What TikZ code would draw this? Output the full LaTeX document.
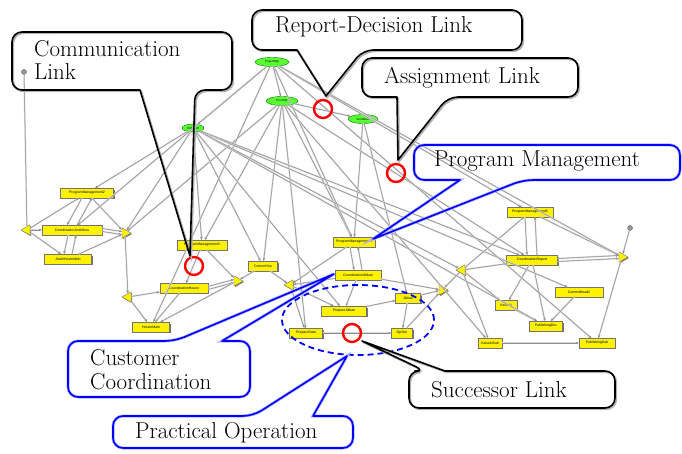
\documentclass[tikz,border=0pt]{standalone}
\usepackage{fontspec}
\newfontfamily\labelfont{Liberation Sans}
\usetikzlibrary{shapes.geometric,arrows.meta,shadows}

\begin{document}
\begin{tikzpicture}[x=1pt,y=-1pt,
  task/.style={draw=black!55, line width=0.4pt, fill=yellow, inner sep=0pt,
    minimum height=9.5pt, font=\labelfont\fontsize{3.5}{4}\selectfont,
    drop shadow={shadow xshift=1.3pt, shadow yshift=-1.3pt, fill=black!55, opacity=1}},
  role/.style={ellipse, draw=green!45!black, line width=0.4pt, fill=green!75!lime!80!white,
    inner sep=0pt, minimum height=9pt, font=\labelfont\fontsize{3}{3.5}\selectfont},
  joinL/.style={regular polygon, regular polygon sides=3, shape border rotate=90,
    draw=black!55, line width=0.4pt, fill=yellow, inner sep=0pt, minimum size=12pt,
    drop shadow={shadow xshift=1pt, shadow yshift=-1pt, fill=black!50, opacity=1}},
  joinR/.style={joinL, shape border rotate=-90},
  enddot/.style={circle, draw=black!65, fill=black!40, inner sep=0pt, minimum size=5pt},
  ring/.style={circle, draw=red, line width=2.4pt, inner sep=0pt, minimum size=18pt},
  link/.style={draw=black!45, line width=0.5pt,
    preaction={draw=black!15, line width=1.6pt},
    -{Stealth[length=3pt,width=2.4pt]}},
  plain/.style={draw=black!45, line width=0.5pt, preaction={draw=black!15, line width=1.6pt}},
  callout/.style={draw=black, line width=1.6pt, line join=round,
    preaction={draw=black!30, line width=1.8pt, transform canvas={shift={(1.3pt,-1.3pt)}}}},
  bluecallout/.style={draw=blue, line width=1.6pt, line join=round,
    preaction={draw=blue!30, line width=3pt}},
  ctext/.style={font=\rmfamily\fontsize{23}{23.5}\selectfont, inner sep=0pt, anchor=base west, align=left},
]
\useasboundingbox (0,0) rectangle (682,454);

% ---------- roles ----------
\node[role, minimum width=34pt] (pmgr)    at (272,62)  {ProjectMgr};
\node[role, minimum width=32pt] (procmgr) at (282,101) {ProcMgr};
\node[role, minimum width=22pt, minimum height=8pt] (edit) at (193,128) {EditStaff};
\node[role, minimum width=30pt] (send)    at (363,119) {SendStaff};
\node[enddot] (dotA) at (24,72) {};
\node[enddot] (dotB) at (630,228) {};

% ---------- left cluster ----------
\node[task, minimum width=53pt] (pm2)  at (87,193)  {ProgramManagement2};
\node[task, minimum width=60pt] (cjs)  at (72,230)  {CoordinationJisshihou};
\node[task, minimum width=47pt] (jhm)  at (68,259)  {JisshiHoshinMin};
\node[joinL] (tA) at (27,230) {};
\node[joinR] (tB) at (125,233) {};
\node[joinL] (tC) at (128,297) {};
\node[task, minimum width=50pt] (pm3)  at (202,245) {ProgramManagement3};
\node[task, minimum width=48pt] (chou) at (184,288) {CoordinationHouon};
\node[joinR] (tD) at (237,281) {};
\node[task, minimum width=37pt] (hmain) at (151,327) {HouonMain};
\node[task, minimum width=29pt] (cyou) at (263,266) {CommitYou};

% ---------- middle cluster ----------
\node[joinL] (tE) at (290,285) {};
\node[task, minimum width=42pt] (pm4)   at (354,242) {ProgramManagement4};
\node[task, minimum width=46pt] (cjik)  at (358,275) {CoordinationJikkan};
\node[task, minimum width=25pt] (jik)   at (408,298) {Jikkan};
\node[task, minimum width=45pt] (prepj) at (344,311) {PrepareJikkan};
\node[task, minimum width=33pt] (prepd) at (306,333) {PrepareData};
\node[task, minimum width=21pt] (opsim) at (402,333) {OpSim};
\node[joinR] (tF) at (442,290) {};

% ---------- right cluster ----------
\node[joinL] (tG) at (462,270) {};
\node[task, minimum width=46pt] (pm5)    at (530,212) {ProgramManagement5};
\node[task, minimum width=51pt] (crep)   at (532,260) {CoordinationReport};
\node[joinR] (tH) at (622,257) {};
\node[task, minimum width=48pt] (chead)  at (579,292) {CommitHead2};
\node[task, minimum width=22pt] (kai)    at (506,305) {Kaiseki};
\node[task, minimum width=33pt] (pubdoc) at (546,326) {PublishingDoc};
\node[task, minimum width=24pt] (kaisub) at (490,343) {KaisekiSub};
\node[task, minimum width=36pt] (pubsub) at (597,343) {PublishingSub};

% ---------- links ----------
\draw[plain] (dotA) -- (tA);
\draw[link] (tA) -- (pm2);
\draw[link] (tA) -- (cjs);
\draw[link] (tA) -- (jhm);
\draw[link] ([xshift=-5pt]pm2.south) -- ([xshift=-5pt]cjs.north);
\draw[link] ([xshift=5pt]cjs.north) -- ([xshift=5pt]pm2.south);
\draw[link] ([xshift=-4pt]cjs.south) -- ([xshift=-4pt]jhm.north);
\draw[link] ([xshift=4pt]jhm.north) -- ([xshift=4pt]cjs.south);
\draw[link] ([yshift=-1.5pt]cjs.east) -- ([yshift=-1.5pt]tB.west);
\draw[link] ([yshift=1.5pt]cjs.east) -- ([yshift=1.5pt]tB.west);
\draw[link] (jhm) -- (tB);
\draw[link] (pm2) -- (tB);
\draw[link] (edit) -- (pm2);
\draw[link] (pmgr) -- (cjs);
\draw[link] (procmgr) -- (tB);
\draw[link] (edit) -- (tB);
\draw[link] (tB) -- (tC);
\draw[link] (tC) -- (chou);
\draw[link] (tC) -- (hmain);
\draw[link] (chou) -- (hmain);
\draw[link] ([yshift=-1.5pt]chou.east) -- ([yshift=-1.5pt]tD.west);
\draw[link] ([yshift=1.5pt]chou.east) -- ([yshift=1.5pt]tD.west);
\draw[link] (pm3) -- (tD);
\draw[link] (pm3) -- (chou);
\draw[link] (tD) -- (hmain);
\draw[link] (edit) -- (pm3);
\draw[link] (procmgr) -- (pm3);
\draw[link] (edit) -- (cyou);
\draw[link] (procmgr) -- (cyou);
\draw[link] (cyou) -- (tD);
\draw[link] (cyou) -- (tE);
\draw[link] (pmgr) -- (hmain);
\draw[link] (procmgr) -- (pm4);
\draw[link] (pmgr) -- (pm4);
\draw[link] (send) -- (pm4);
\draw[link] (send) -- (jik);
\draw[link] (procmgr) -- (send);
\draw[link] (pmgr) -- (procmgr);
\draw[link] (pmgr) -- (edit);
\draw[link] ([xshift=-4pt]pm4.south) -- ([xshift=-4pt]cjik.north);
\draw[link] ([xshift=4pt]cjik.north) -- ([xshift=4pt]pm4.south);
\draw[link] (pm4) -- (tE);
\draw[link] (cjik) -- (tE);
\draw[link] (tE) -- (prepd);
\draw[link] (tE) -- (prepj);
\draw[link] (cjik) -- (prepj);
\draw[link] (prepj) -- (jik);
\draw[link] (cjik) -- (tF);
\draw[link] (jik) -- (tF);
\draw[link] (jik) -- (opsim);
\draw[link] (prepd) -- (opsim);
\draw[link] (opsim) -- (tF);
\draw[link] (procmgr) -- (prepd);
\draw[link] (edit) -- (prepj);
\draw[link] (tG) -- (tF);
\draw[link] (tG) -- (pm5);
\draw[link] (tG) -- (crep);
\draw[link] (tG) -- (kaisub);
\draw[link] (tG) -- (kai);
\draw[link] (pmgr) -- (pm5);
\draw[link] (procmgr) -- (crep);
\draw[link] ([xshift=-5pt]pm5.south) -- ([xshift=-5pt]crep.north);
\draw[link] ([xshift=5pt]crep.north) -- ([xshift=5pt]pm5.south);
\draw[link] (pm5) -- (tH);
\draw[link] ([yshift=-1.5pt]crep.east) -- ([yshift=-1.5pt]tH.west);
\draw[link] ([yshift=1.5pt]crep.east) -- ([yshift=1.5pt]tH.west);
\draw[link] (dotB) -- (tH);
\draw[link] (chead) -- (pubdoc);
\draw[link] (crep) -- (kai);
\draw[link] (crep) -- (pubdoc);
\draw[link] (kai) -- (pubdoc);
\draw[link] (tH) -- (pubsub);
\draw[link] (kaisub) -- (pubsub);
\draw[link] (edit) -- (chead);
\draw[link] (edit) -- (pubdoc);
\draw[link] (procmgr) -- (kaisub);
\draw[link] (edit) -- (tG);
\draw[link] (pmgr) -- (tH);
\draw[link] (pmgr) -- (pubsub);
\draw[link] (edit) -- (crep);

% ---------- highlighted links ----------
\node[ring] (ringRD) at (323,109) {};
\node[ring] (ringAs) at (396,173) {};
\node[ring] (ringCo) at (194,266) {};
\node[ring] (ringSu) at (352,333) {};

% operational group
\draw[blue, line width=1.8pt, dash pattern=on 6pt off 4pt] (358,320) ellipse [x radius=76pt, y radius=35pt];

% ---------- callouts ----------
\draw[callout] (140,90) [rounded corners=10pt] -- (12,90) -- (12,32) -- (232,32) -- (232,90) -- (195,90) [sharp corners] -- (190,256) -- cycle;
\node[ctext] (tComm) at (34,80) {Communication\\Link};

\draw[callout] (297,50) [rounded corners=10pt] -- (252,50) -- (252,10) -- (522,10) -- (522,50) -- (363,50) [sharp corners] -- (326,96) -- cycle;
\node[ctext] (tRD) at (275,33) {Report-Decision Link};

\draw[callout] (397,97) [rounded corners=10pt] -- (362,97) -- (362,58) -- (578,58) -- (578,97) -- (448,97) [sharp corners] -- (398,160) -- cycle;
\node[ctext] (tAs) at (384,84) {Assignment Link};

\draw[bluecallout] (460,180) [rounded corners=10pt] -- (414,180) -- (414,145) -- (680,145) -- (680,180) -- (523,180) [sharp corners] -- (373,239) -- cycle;
\node[ctext] (tPM) at (434,167) {Program Management};

\draw[bluecallout] (222,341) [rounded corners=10pt] -- (250,341) -- (250,397) -- (68,397) -- (68,341) -- (175,341) [sharp corners] -- (334,274) -- cycle;
\node[ctext] (tCC) at (90,389) {Customer\\Coordination};

\draw[bluecallout] (313,416) [rounded corners=10pt] -- (353,416) -- (353,448) -- (113,448) -- (113,416) -- (253,416) [sharp corners] -- (347,356) -- cycle;
\node[ctext] (tPO) at (135,438) {Practical Operation};

\draw[callout] (445,371) [rounded corners=10pt] -- (615,371) -- (615,408) -- (409,408) -- (409,371) -- (425,371) [sharp corners] -- (362,341) -- cycle;
\node[ctext] (tSu) at (431,397) {Successor Link};
\end{tikzpicture}
\end{document}
